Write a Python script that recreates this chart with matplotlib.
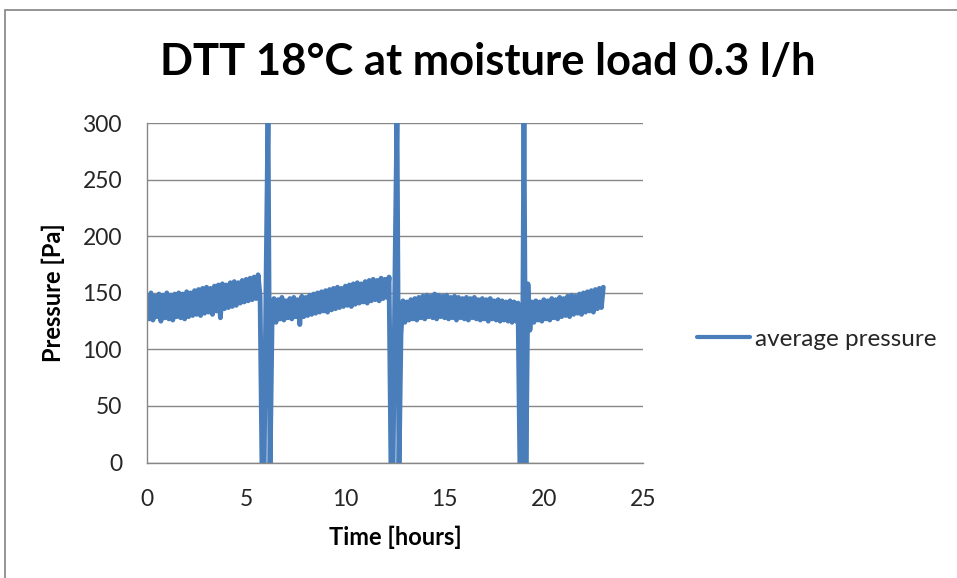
import matplotlib
matplotlib.use("Agg")
import matplotlib.pyplot as plt
from matplotlib.patches import Rectangle

# ---------------- data ----------------
time_h = [
    0.0, 0.1, 0.2, 0.3, 0.4, 0.5, 0.6, 0.7, 0.8, 0.9,
    1.0, 1.1, 1.2, 1.3, 1.4, 1.5, 1.6, 1.7, 1.8, 1.9,
    2.0, 2.1, 2.2, 2.3, 2.4, 2.5, 2.6, 2.7, 2.8, 2.9,
    3.0, 3.1, 3.2, 3.3, 3.4, 3.5, 3.6, 3.7, 3.8, 3.9,
    4.0, 4.1, 4.2, 4.3, 4.4, 4.5, 4.6, 4.7, 4.8, 4.9,
    5.0, 5.1, 5.2, 5.3, 5.4, 5.5, 5.6, 5.7, 5.8, 5.9,
    6.0, 6.1, 6.2, 6.3, 6.4, 6.5, 6.6, 6.7, 6.8, 6.9,
    7.0, 7.1, 7.2, 7.3, 7.4, 7.5, 7.6, 7.7, 7.8, 7.9,
    8.0, 8.1, 8.2, 8.3, 8.4, 8.5, 8.6, 8.7, 8.8, 8.9,
    9.0, 9.1, 9.2, 9.3, 9.4, 9.5, 9.6, 9.7, 9.8, 9.9,
    10.0, 10.1, 10.2, 10.3, 10.4, 10.5, 10.6, 10.7, 10.8, 10.9,
    11.0, 11.1, 11.2, 11.3, 11.4, 11.5, 11.6, 11.7, 11.8, 11.9,
    12.0, 12.1, 12.2, 12.3, 12.4, 12.5, 12.6, 12.7, 12.8, 12.9,
    13.0, 13.1, 13.2, 13.3, 13.4, 13.5, 13.6, 13.7, 13.8, 13.9,
    14.0, 14.1, 14.2, 14.3, 14.4, 14.5, 14.6, 14.7, 14.8, 14.9,
    15.0, 15.1, 15.2, 15.3, 15.4, 15.5, 15.6, 15.7, 15.8, 15.9,
    16.0, 16.1, 16.2, 16.3, 16.4, 16.5, 16.6, 16.7, 16.8, 16.9,
    17.0, 17.1, 17.2, 17.3, 17.4, 17.5, 17.6, 17.7, 17.8, 17.9,
    18.0, 18.1, 18.2, 18.3, 18.4, 18.5, 18.6, 18.7, 18.8, 18.9,
    19.0, 19.1, 19.2, 19.3, 19.4, 19.5, 19.6, 19.7, 19.8, 19.9,
    20.0, 20.1, 20.2, 20.3, 20.4, 20.5, 20.6, 20.7, 20.8, 20.9,
    21.0, 21.1, 21.2, 21.3, 21.4, 21.5, 21.6, 21.7, 21.8, 21.9,
    22.0, 22.1, 22.2, 22.3, 22.4, 22.5, 22.6, 22.7, 22.8, 22.9,
    23.0,
]

average_pressure = [
    148, 127, 150, 126, 147, 129, 149, 125, 148, 128,
    150, 127, 148, 126, 149, 129, 150, 128, 149, 127,
    151, 129, 150, 130, 152, 131, 153, 130, 154, 132,
    155, 133, 154, 131, 156, 134, 157, 128, 158, 136,
    157, 137, 159, 138, 160, 139, 159, 141, 161, 142,
    162, 143, 163, 144, 164, 145, 166, 147, -10, -10,
    158, 310, -10, 121, 145, 124, 144, 127, 146, 126,
    143, 128, 145, 127, 146, 129, 144, 122, 147, 129,
    146, 130, 148, 131, 149, 132, 150, 133, 151, 134,
    152, 133, 153, 135, 154, 136, 155, 137, 154, 138,
    156, 139, 157, 138, 158, 140, 159, 141, 158, 142,
    160, 141, 161, 143, 162, 144, 161, 143, 163, 145,
    162, 146, 164, -10, -10, 168, 310, -10, 113, 143,
    124, 142, 126, 144, 127, 145, 126, 146, 128, 147,
    127, 148, 129, 147, 128, 149, 127, 148, 129, 147,
    128, 148, 127, 146, 128, 147, 126, 146, 128, 145,
    127, 146, 126, 145, 128, 146, 127, 144, 126, 145,
    127, 144, 125, 145, 127, 143, 126, 144, 125, 143,
    126, 142, 125, 143, 124, 142, 125, 141, -10, -10,
    310, -10, 158, 117, 142, 124, 143, 126, 142, 125,
    144, 127, 143, 126, 145, 128, 144, 127, 146, 129,
    145, 130, 147, 129, 148, 131, 147, 132, 149, 131,
    150, 133, 151, 134, 152, 133, 153, 136, 154, 137,
    155,
]

series_label = "average pressure"
title_text = "DTT 18°C at moisture load 0.3 l/h"
x_label = "Time [hours]"
y_label = "Pressure [Pa]"
x_ticks = [0, 5, 10, 15, 20, 25]
y_ticks = [0, 50, 100, 150, 200, 250, 300]

# ---------------- styling ----------------
FONT = ["Lato", "DejaVu Sans"]
plt.rcParams["font.family"] = FONT
LINE_BLUE = "#4A7EBB"
GRID_GRAY = "#878787"
TEXT_COLOR = "#262626"

W, H = 957, 578
fig = plt.figure(figsize=(W / 100, H / 100), dpi=100)
fig.patch.set_facecolor("white")

# chart-area border (top and left edges visible in the original)
fig.add_artist(Rectangle((5 / W, -0.05), 1.1, (H - 10) / H + 0.05,
                         transform=fig.transFigure, fill=False,
                         edgecolor="#8c8c8c", linewidth=1.3))

ax = fig.add_axes([147 / W, 1 - 462.5 / H, (643 - 147) / W, (462.5 - 123.3) / H])
ax.plot(time_h, average_pressure, color=LINE_BLUE, linewidth=3.5,
        solid_joinstyle="round", solid_capstyle="round",
        label=series_label, clip_on=True)

ax.set_xlim(0, 25)
ax.set_ylim(0, 300)
ax.set_xticks(x_ticks)
ax.set_yticks(y_ticks)
ax.tick_params(axis="both", length=0, labelsize=16.5, colors=TEXT_COLOR)
ax.tick_params(axis="y", pad=18)
ax.tick_params(axis="x", pad=19)

ax.grid(axis="y", color=GRID_GRAY, linewidth=1.0)
ax.set_axisbelow(True)
for s in ["top", "right"]:
    ax.spines[s].set_visible(False)
for s in ["left", "bottom"]:
    ax.spines[s].set_color(GRID_GRAY)
    ax.spines[s].set_linewidth(1.0)

ax.set_xlabel(x_label, fontsize=17, fontweight="bold", color="black")
ax.set_ylabel(y_label, fontsize=17, fontweight="bold", color="black")
ax.xaxis.set_label_coords((395 - 147) / 496, -(537 - 462.5) / 339.2)
ax.yaxis.set_label_coords(-(147 - 53) / 496, 0.5)
ax.xaxis.label.set_va("center")
ax.yaxis.label.set_va("center")

fig.text(487.5 / W, 1 - 62 / H, title_text, ha="center", va="center",
         fontsize=31.3, fontweight="bold", color="black")

leg = ax.legend(loc="center left", bbox_to_anchor=(697 / W, 1 - 339 / H),
                bbox_transform=fig.transFigure, frameon=False,
                fontsize=17.5, handlelength=2.2, handletextpad=0.2,
                borderaxespad=0, borderpad=0)
for t in leg.get_texts():
    t.set_color(TEXT_COLOR)
for l in leg.get_lines():
    l.set_linewidth(3.0)

fig.savefig("out.png", dpi=100, facecolor="white")
